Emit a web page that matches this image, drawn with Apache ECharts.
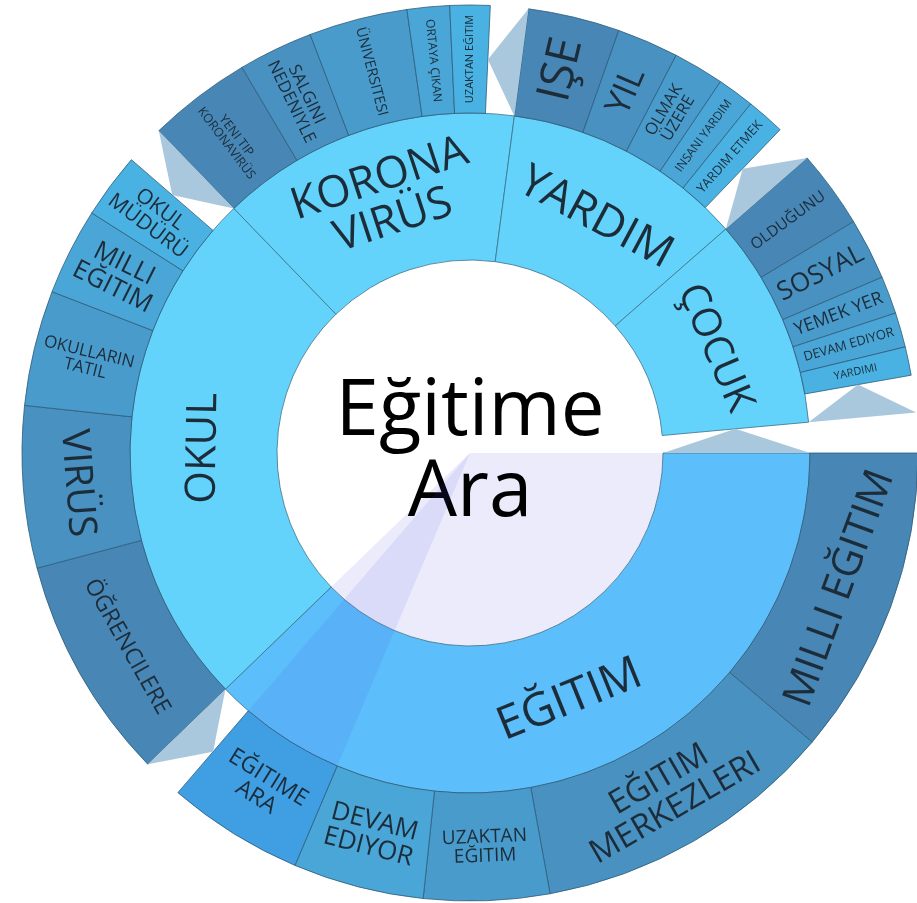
<!DOCTYPE html>
<html lang="tr">
<head>
    <meta charset="UTF-8">
    <title>Eğitime Ara</title>
    <script src="https://cdn.jsdelivr.net/npm/echarts@6/dist/echarts.min.js"></script>
    <style>
        html, body { margin: 0; padding: 0; background: #fff; }
        #main { width: 917px; height: 903px; }
    </style>
</head>
<body>
<div id="main"></div>
<script>
    // --- data (values = share of the wheel) ---
    const centerName = 'Eğitime Ara';
    const totalValue = 360;
    const topics = ['EĞITIM', 'OKUL', 'KORONA VIRÜS', 'YARDIM', 'ÇOCUK'];
    const topicValues = [136, 90, 51.5, 41.3, 36];

    const egitimTerms = ['MILLI EĞITIM', 'EĞITIM MERKEZLERI', 'UZAKTAN EĞITIM', 'DEVAM EDIYOR', 'EĞITIME ARA'];
    const egitimValues = [40.2, 39.5, 16.3, 17, 17.7];
    const okulTerms = ['ÖĞRENCILERE', 'VIRÜS', 'OKULLARIN TATIL', 'MILLI EĞITIM', 'OKUL MÜDÜRÜ'];
    const okulValues = [29.1, 21, 15, 11.3, 8.5];
    const koronaTerms = ['YENI TIP KORONAVIRÜS', 'SALGINI NEDENIYLE', 'ÜNIVERSITESI', 'ORTAYA ÇIKAN', 'UZAKTAN EĞITIM'];
    const koronaValues = [13.4, 9.7, 12.8, 5.5, 5.2];
    const yardimTerms = ['IŞE', 'YIL', 'OLMAK ÜZERE', 'INSANI YARDIM', 'YARDIM ETMEK'];
    const yardimValues = [11.9, 8, 6.6, 4.8, 5];
    const cocukTerms = ['OLDUĞUNU', 'SOSYAL', 'YEMEK YER', 'DEVAM EDIYOR', 'YARDIMI'];
    const cocukValues = [10.1, 8, 4.9, 4.5, 3.7];

    const termNames = [egitimTerms, okulTerms, koronaTerms, yardimTerms, cocukTerms];
    const termValues = [egitimValues, okulValues, koronaValues, yardimValues, cocukValues];

    // the selected path (drawn highlighted)
    const activeTopic = 0;
    const activeTerm = 4;

    // --- look ---
    const CX = 470, CY = 453;
    const R_HOLE = 193, R_MID = 340, R_OUT = 448;
    const FONT = '"Open Sans", "Noto Sans", sans-serif';
    const TEXT = '#1c2c39';
    const innerColor = '#63d3fc';
    const activeInnerColor = '#5cbefa';
    const shades = ['#4786b5', '#4891c1', '#499bcc', '#4aa6d7', '#4ab2e2'];
    const activeTermColor = '#3f9fe2';

    const topicFont = [46, 42, 44, 45, 40];
    const termFont = [
        [41, 33, 19, 26, 23],
        [23, 39, 17, 26, 21],
        [12.5, 17, 14.5, 12, 11],
        [46, 35, 16.5, 12, 12.8],
        [15.5, 26, 18, 13, 11]
    ];
    const termWrap = [
        [0, 1, 1, 1, 1],
        [0, 0, 1, 1, 1],
        [1, 1, 0, 0, 0],
        [0, 0, 1, 0, 0],
        [0, 0, 0, 0, 0]
    ];
    const termRotate = [
        ['tangential', 'tangential', 'tangential', 'tangential', 'tangential'],
        ['tangential', 'tangential', 'radial', 'radial', 'radial'],
        ['radial', 'radial', 'radial', 'radial', 'radial'],
        ['radial', 'radial', 'radial', 'radial', 'radial'],
        ['radial', 'radial', 'radial', 'radial', 'radial']
    ];

    function breakLast(s) {
        let k = s.lastIndexOf(' ');
        return k < 0 ? s : s.slice(0, k) + '\n' + s.slice(k + 1);
    }
    function sum(a) {
        return a.reduce((x, y) => x + y, 0);
    }

    let topicNodes = topics.map(function (t, i) {
        return {
            name: t,
            value: topicValues[i],
            itemStyle: {color: i === activeTopic ? activeInnerColor : innerColor},
            label: {
                rotate: 'tangential',
                fontSize: topicFont[i],
                lineHeight: topicFont[i],
                formatter: breakLast(t)
            },
            children: termNames[i].map(function (n, j) {
                let active = i === activeTopic && j === activeTerm;
                return {
                    name: n,
                    value: termValues[i][j],
                    itemStyle: {color: active ? activeTermColor : shades[j]},
                    label: {
                        rotate: termRotate[i][j],
                        fontSize: termFont[i][j],
                        lineHeight: termFont[i][j],
                        formatter: termWrap[i][j] ? breakLast(n) : n
                    }
                };
            })
        };
    });

    // little folds between the end of a group's children and the next group
    let unit = 360 / totalValue;
    let folds = [[totalValue, sum(topicValues), 0]];
    let start = 0;
    topicValues.forEach(function (v, i) {
        folds.push([start + v, start + sum(termValues[i]), 1]);
        start += v;
    });
    const ringR = [[R_HOLE, R_MID], [R_MID, R_OUT]];

    function ringPoint(deg, r) {
        let a = deg * Math.PI / 180;
        return [CX + r * Math.cos(a), CY + r * Math.sin(a)];
    }

    let activeStart = sum(egitimValues.slice(0, activeTerm));
    let activeValue = egitimValues[activeTerm];

    let myChart = echarts.init(document.getElementById('main'));
    let option = {
        animation: false,
        series: [
            {
                // lavender wedge of the active topic inside the hole
                type: 'pie',
                z: 1,
                silent: true,
                center: [CX, CY],
                radius: [0, R_HOLE],
                startAngle: 0,
                clockwise: true,
                label: {show: false},
                labelLine: {show: false},
                itemStyle: {borderWidth: 0},
                data: [
                    {value: topicValues[activeTopic], itemStyle: {color: '#ebebfb'}},
                    {value: totalValue - topicValues[activeTopic], itemStyle: {color: 'rgba(0,0,0,0)'}}
                ]
            },
            {
                type: 'sunburst',
                z: 2,
                center: [CX, CY],
                radius: [0, R_OUT],
                startAngle: 0,
                clockwise: true,
                sort: null,
                nodeClick: false,
                itemStyle: {borderColor: '#2f5d7a', borderWidth: 0.8},
                label: {
                    color: TEXT,
                    fontFamily: FONT,
                    position: 'inside',
                    align: 'center'
                },
                emphasis: {disabled: true},
                levels: [
                    {},
                    {
                        r0: 0, r: R_HOLE,
                        itemStyle: {color: 'rgba(0,0,0,0)', borderWidth: 0},
                        label: {rotate: 0, fontSize: 78, lineHeight: 81, color: '#000', offset: [0, -8]}
                    },
                    {r0: R_HOLE, r: R_MID, itemStyle: {borderColor: '#3d7088', borderWidth: 0.8}},
                    {r0: R_MID, r: R_OUT}
                ],
                data: [{
                    name: centerName,
                    value: totalValue,
                    label: {formatter: breakLast(centerName)},
                    children: topicNodes
                }]
            },
            {
                // highlighted path from the centre to the active term
                type: 'pie',
                z: 3,
                silent: true,
                center: [CX, CY],
                radius: [0, R_MID],
                startAngle: 0,
                clockwise: true,
                label: {show: false},
                labelLine: {show: false},
                itemStyle: {borderWidth: 0},
                data: [
                    {value: activeStart, itemStyle: {color: 'rgba(0,0,0,0)'}},
                    {value: activeValue, itemStyle: {color: 'rgba(70,70,235,0.1)'}},
                    {value: totalValue - activeStart - activeValue, itemStyle: {color: 'rgba(0,0,0,0)'}}
                ]
            },
            {
                type: 'custom',
                coordinateSystem: 'none',
                z: 3,
                silent: true,
                data: folds,
                renderItem: function (params, api) {
                    let base = api.value(0) * unit;
                    let apex = api.value(1) * unit;
                    let rr = ringR[api.value(2)];
                    return {
                        type: 'polygon',
                        shape: {
                            points: [ringPoint(base, rr[0]), ringPoint(base, rr[1]), ringPoint(apex, (rr[0] + rr[1]) / 2)]
                        },
                        style: {fill: '#aac8dd'}
                    };
                }
            }
        ]
    };
    myChart.setOption(option);
</script>
</body>
</html>
